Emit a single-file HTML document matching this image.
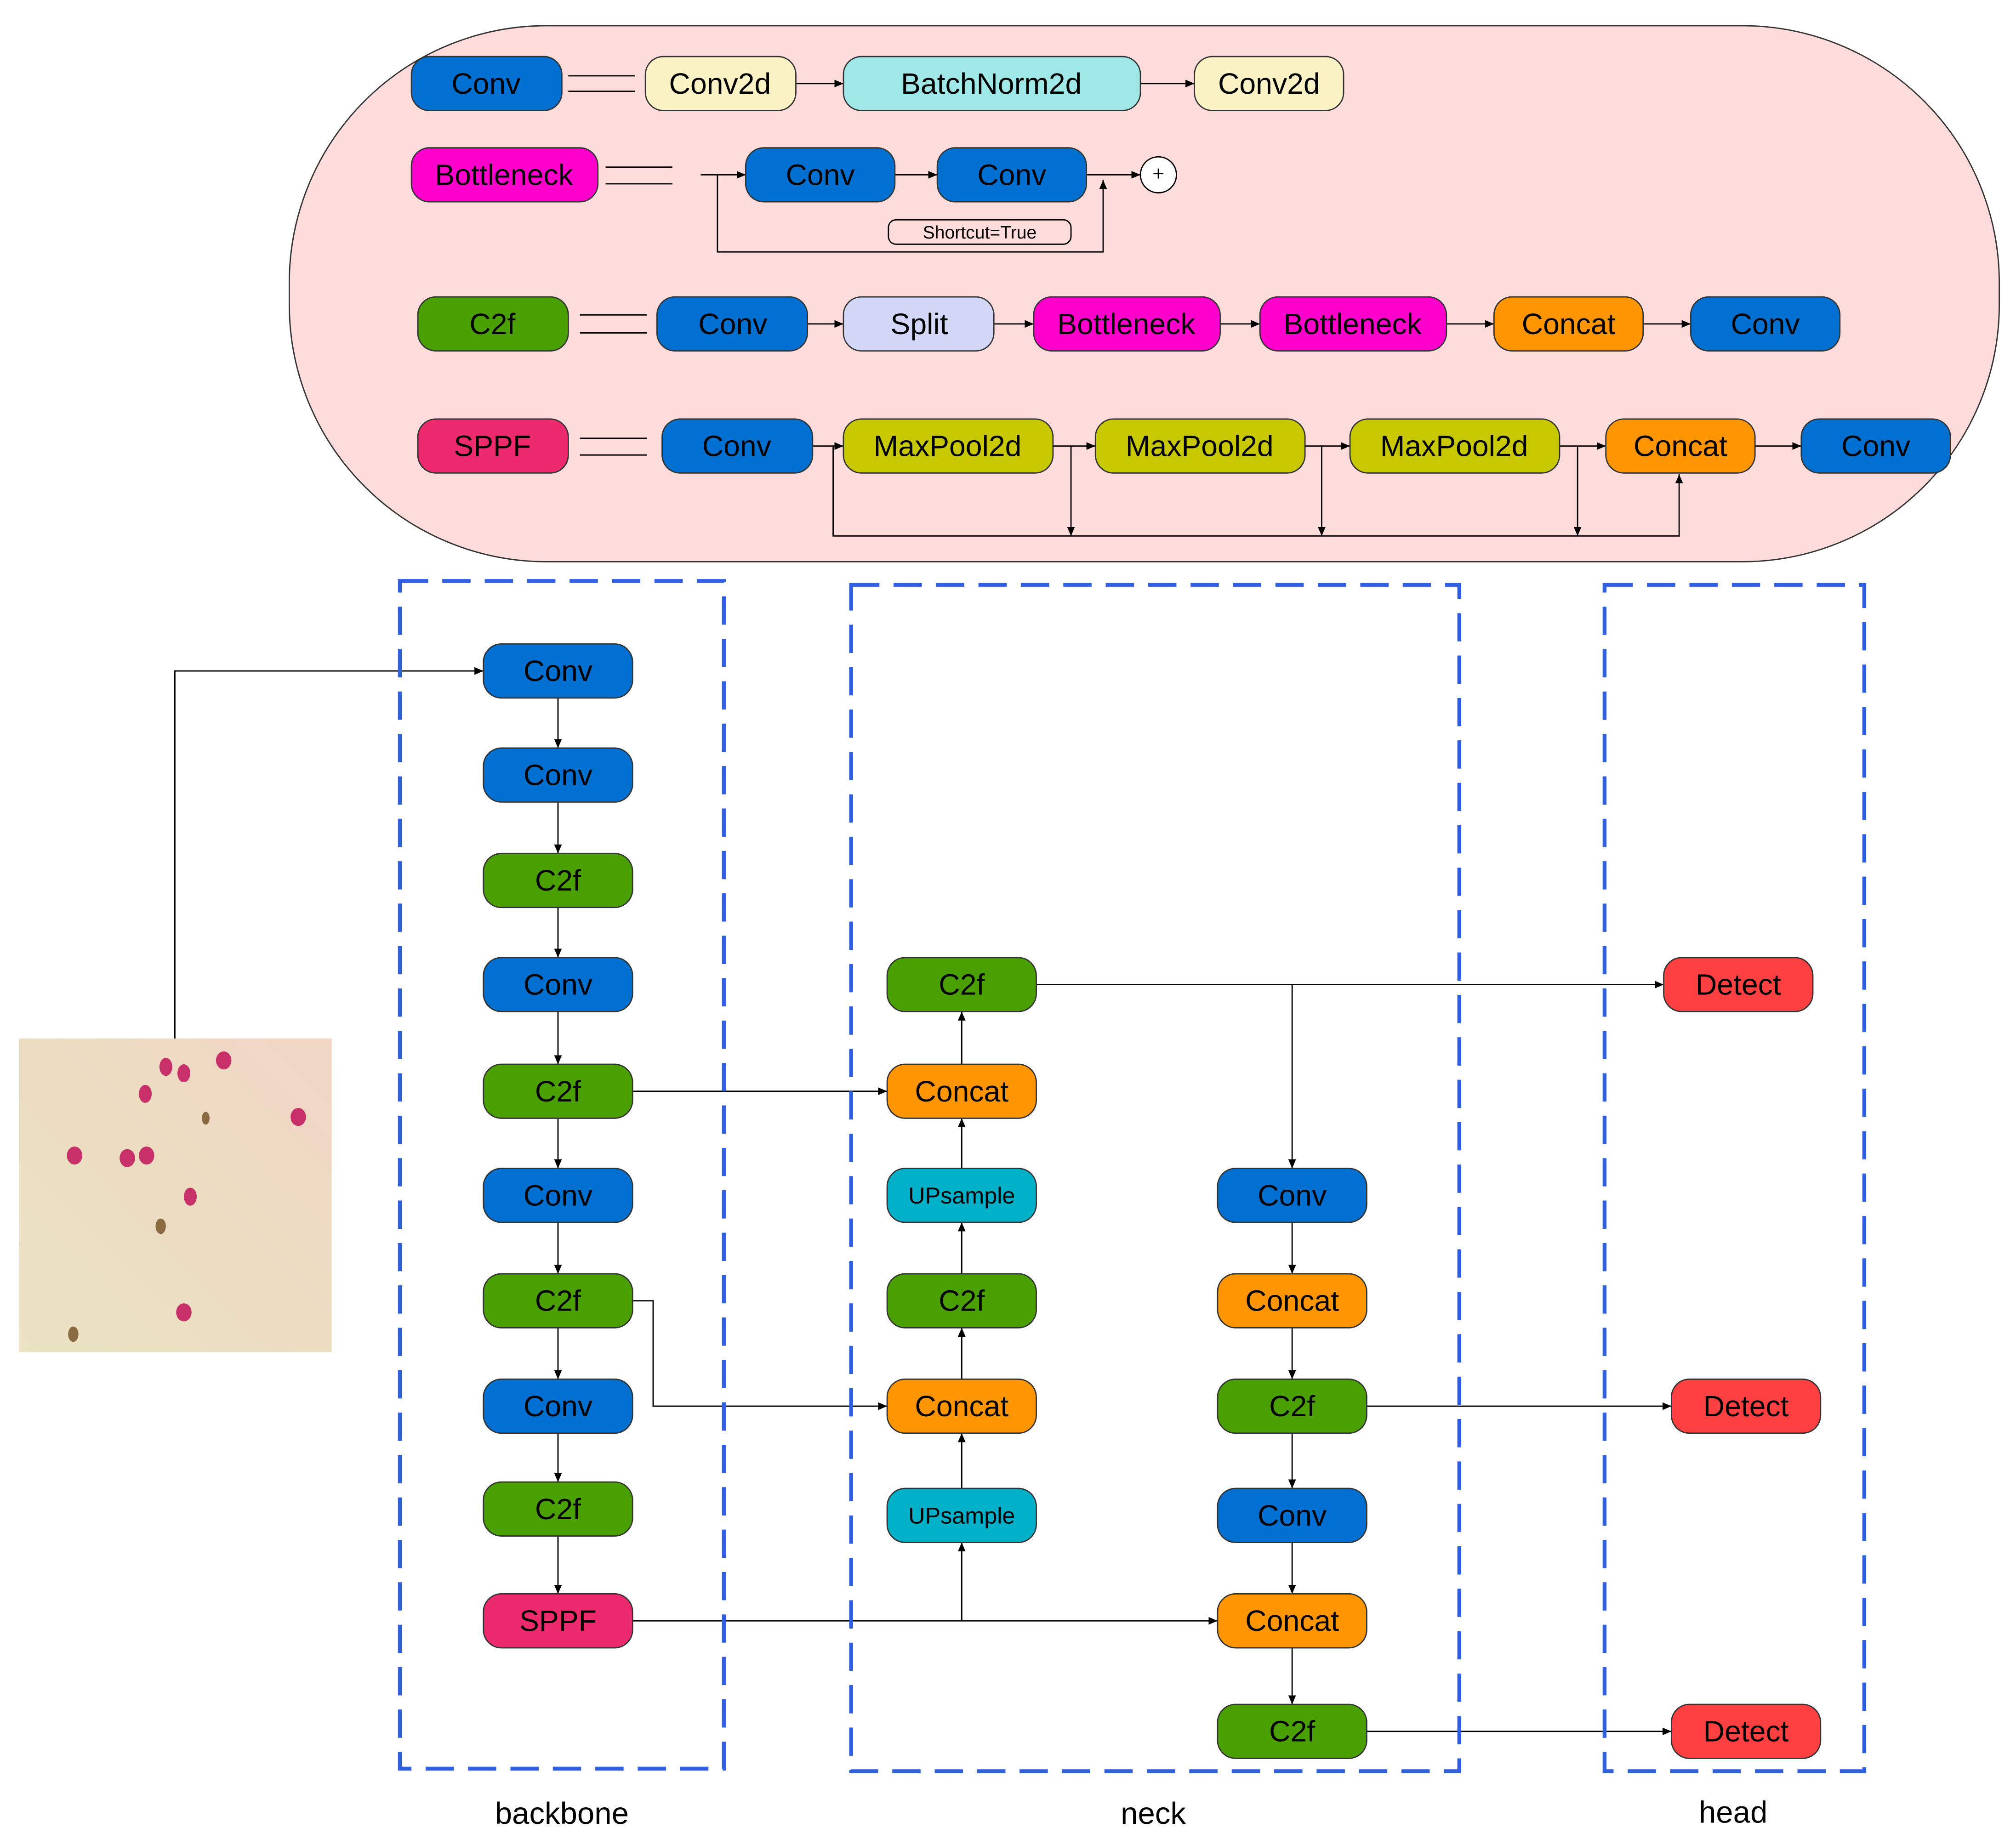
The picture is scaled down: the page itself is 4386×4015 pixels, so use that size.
<!DOCTYPE html>
<html><head><meta charset="utf-8"><style>
html,body{margin:0;padding:0;background:#fff}
svg{display:block}
text{font-family:"Liberation Sans",Arial,sans-serif;dominant-baseline:central;text-anchor:middle}
</style></head><body>
<svg width="4386" height="4015" viewBox="0 0 1568 1435.4" preserveAspectRatio="none" xmlns="http://www.w3.org/2000/svg">
<defs>
<marker id="a" markerWidth="8" markerHeight="8" refX="7" refY="4" orient="auto" markerUnits="userSpaceOnUse"><path d="M0,1 L7,4 L0,7 z" fill="#000"/></marker>
<linearGradient id="bg" x1="0" y1="1" x2="1" y2="0"><stop offset="0" stop-color="#ebe3c4"/><stop offset="0.5" stop-color="#ecdcc2"/><stop offset="1" stop-color="#f0d6c4"/></linearGradient>
</defs>
<rect x="225" y="20" width="1330" height="417" rx="200" ry="200" fill="#ffdcdc" stroke="#333" stroke-width="1"/>
<g stroke="#000" stroke-width="1" fill="none">
<path d="M442 59H494M442 71H494M471 130H523M471 143H523M451 245H503M451 259H503M451 341H503M451 354H503"/>
</g>
<g stroke="#000" stroke-width="1" fill="none" marker-end="url(#a)">
<path d="M619 65H656"/><path d="M887 65H929"/>
<path d="M545 136H580"/><path d="M696 136H729"/><path d="M845 136H887"/>
<path d="M558 136V196H858V140"/>
<path d="M628 252H656"/><path d="M773 252H804"/><path d="M949 252H980"/><path d="M1125 252H1162"/><path d="M1278 252H1315"/>
<path d="M632 347H656"/><path d="M819 347H852"/><path d="M1015 347H1050"/><path d="M1213 347H1249"/><path d="M1365 347H1401"/>
<path d="M648 347V417H1306V369"/>
<path d="M833 347V417"/><path d="M1028 347V417"/><path d="M1227 347V417"/>
<path d="M136 808V522H376"/>
<path d="M434 543V582"/><path d="M434 624V664"/><path d="M434 706V745"/><path d="M434 787V828"/><path d="M434 870V909"/><path d="M434 951V991"/><path d="M434 1033V1073"/><path d="M434 1115V1153"/><path d="M434 1195V1240"/>
<path d="M492 1261H947"/><path d="M748 1261V1200"/>
<path d="M748 1158V1115"/><path d="M748 1073V1033"/><path d="M748 991V951"/><path d="M748 909V870"/><path d="M748 828V787"/>
<path d="M492 849H690"/>
<path d="M492 1012H508V1094H690"/>
<path d="M806 766H1294"/><path d="M1005 766V909"/>
<path d="M1005 951V991"/><path d="M1005 1033V1073"/><path d="M1005 1115V1158"/><path d="M1005 1200V1240"/><path d="M1005 1282V1326"/>
<path d="M1063 1094H1300"/><path d="M1063 1347H1300"/>
</g>
<circle cx="901" cy="136" r="14" fill="#fff" stroke="#000"/><text x="901" y="135" font-size="16">+</text>
<rect x="691" y="171" width="142" height="19" rx="6" fill="#ffdcdc" stroke="#000"/><text x="762" y="181" font-size="14">Shortcut=True</text>
<g stroke="#222" stroke-width="1" stroke-dasharray="22 11" fill="none">
<rect x="311" y="452" width="252" height="924" stroke="#3060e0" stroke-width="3"/>
<rect x="662" y="455" width="473" height="923" stroke="#3060e0" stroke-width="3"/>
<rect x="1248" y="455" width="202" height="923" stroke="#3060e0" stroke-width="3"/>
</g>
<g font-size="23" stroke="#333" stroke-width="1">
<g><rect x="320" y="44" width="117" height="42" rx="14" fill="#0070d0"/><text x="378" y="65" stroke="none">Conv</text></g>
<g><rect x="502" y="44" width="117" height="42" rx="14" fill="#fbf2c6"/><text x="560" y="65" stroke="none">Conv2d</text></g>
<g><rect x="656" y="44" width="231" height="42" rx="14" fill="#a0e8e8"/><text x="771" y="65" stroke="none">BatchNorm2d</text></g>
<g><rect x="929" y="44" width="116" height="42" rx="14" fill="#fbf2c6"/><text x="987" y="65" stroke="none">Conv2d</text></g>
<g><rect x="320" y="115" width="145" height="42" rx="14" fill="#ff00cc"/><text x="392" y="136" stroke="none">Bottleneck</text></g>
<g><rect x="580" y="115" width="116" height="42" rx="14" fill="#0070d0"/><text x="638" y="136" stroke="none">Conv</text></g>
<g><rect x="729" y="115" width="116" height="42" rx="14" fill="#0070d0"/><text x="787" y="136" stroke="none">Conv</text></g>
<g><rect x="325" y="231" width="117" height="42" rx="14" fill="#4aa000"/><text x="383" y="252" stroke="none">C2f</text></g>
<g><rect x="511" y="231" width="117" height="42" rx="14" fill="#0070d0"/><text x="570" y="252" stroke="none">Conv</text></g>
<g><rect x="656" y="231" width="117" height="42" rx="14" fill="#d4d8f8"/><text x="715" y="252" stroke="none">Split</text></g>
<g><rect x="804" y="231" width="145" height="42" rx="14" fill="#ff00cc"/><text x="876" y="252" stroke="none">Bottleneck</text></g>
<g><rect x="980" y="231" width="145" height="42" rx="14" fill="#ff00cc"/><text x="1052" y="252" stroke="none">Bottleneck</text></g>
<g><rect x="1162" y="231" width="116" height="42" rx="14" fill="#ff9500"/><text x="1220" y="252" stroke="none">Concat</text></g>
<g><rect x="1315" y="231" width="116" height="42" rx="14" fill="#0070d0"/><text x="1373" y="252" stroke="none">Conv</text></g>
<g><rect x="325" y="326" width="117" height="42" rx="14" fill="#ee2a6e"/><text x="383" y="347" stroke="none">SPPF</text></g>
<g><rect x="515" y="326" width="117" height="42" rx="14" fill="#0070d0"/><text x="573" y="347" stroke="none">Conv</text></g>
<g><rect x="656" y="326" width="163" height="42" rx="14" fill="#c8c800"/><text x="737" y="347" stroke="none">MaxPool2d</text></g>
<g><rect x="852" y="326" width="163" height="42" rx="14" fill="#c8c800"/><text x="933" y="347" stroke="none">MaxPool2d</text></g>
<g><rect x="1050" y="326" width="163" height="42" rx="14" fill="#c8c800"/><text x="1131" y="347" stroke="none">MaxPool2d</text></g>
<g><rect x="1249" y="326" width="116" height="42" rx="14" fill="#ff9500"/><text x="1307" y="347" stroke="none">Concat</text></g>
<g><rect x="1401" y="326" width="116" height="42" rx="14" fill="#0070d0"/><text x="1459" y="347" stroke="none">Conv</text></g>

<g><rect x="376" y="501" width="116" height="42" rx="14" fill="#0070d0"/><text x="434" y="522" stroke="none">Conv</text></g>
<g><rect x="376" y="582" width="116" height="42" rx="14" fill="#0070d0"/><text x="434" y="603" stroke="none">Conv</text></g>
<g><rect x="376" y="664" width="116" height="42" rx="14" fill="#4aa000"/><text x="434" y="685" stroke="none">C2f</text></g>
<g><rect x="376" y="745" width="116" height="42" rx="14" fill="#0070d0"/><text x="434" y="766" stroke="none">Conv</text></g>
<g><rect x="376" y="828" width="116" height="42" rx="14" fill="#4aa000"/><text x="434" y="849" stroke="none">C2f</text></g>
<g><rect x="376" y="909" width="116" height="42" rx="14" fill="#0070d0"/><text x="434" y="930" stroke="none">Conv</text></g>
<g><rect x="376" y="991" width="116" height="42" rx="14" fill="#4aa000"/><text x="434" y="1012" stroke="none">C2f</text></g>
<g><rect x="376" y="1073" width="116" height="42" rx="14" fill="#0070d0"/><text x="434" y="1094" stroke="none">Conv</text></g>
<g><rect x="376" y="1153" width="116" height="42" rx="14" fill="#4aa000"/><text x="434" y="1174" stroke="none">C2f</text></g>
<g><rect x="376" y="1240" width="116" height="42" rx="14" fill="#ee2a6e"/><text x="434" y="1261" stroke="none">SPPF</text></g>

<g><rect x="690" y="745" width="116" height="42" rx="14" fill="#4aa000"/><text x="748" y="766" stroke="none">C2f</text></g>
<g><rect x="690" y="828" width="116" height="42" rx="14" fill="#ff9500"/><text x="748" y="849" stroke="none">Concat</text></g>
<g><rect x="690" y="909" width="116" height="42" rx="14" fill="#00b0c8"/><text x="748" y="930" stroke="none" font-size="18">UPsample</text></g>
<g><rect x="690" y="991" width="116" height="42" rx="14" fill="#4aa000"/><text x="748" y="1012" stroke="none">C2f</text></g>
<g><rect x="690" y="1073" width="116" height="42" rx="14" fill="#ff9500"/><text x="748" y="1094" stroke="none">Concat</text></g>
<g><rect x="690" y="1158" width="116" height="42" rx="14" fill="#00b0c8"/><text x="748" y="1179" stroke="none" font-size="18">UPsample</text></g>

<g><rect x="947" y="909" width="116" height="42" rx="14" fill="#0070d0"/><text x="1005" y="930" stroke="none">Conv</text></g>
<g><rect x="947" y="991" width="116" height="42" rx="14" fill="#ff9500"/><text x="1005" y="1012" stroke="none">Concat</text></g>
<g><rect x="947" y="1073" width="116" height="42" rx="14" fill="#4aa000"/><text x="1005" y="1094" stroke="none">C2f</text></g>
<g><rect x="947" y="1158" width="116" height="42" rx="14" fill="#0070d0"/><text x="1005" y="1179" stroke="none">Conv</text></g>
<g><rect x="947" y="1240" width="116" height="42" rx="14" fill="#ff9500"/><text x="1005" y="1261" stroke="none">Concat</text></g>
<g><rect x="947" y="1326" width="116" height="42" rx="14" fill="#4aa000"/><text x="1005" y="1347" stroke="none">C2f</text></g>

<g><rect x="1294" y="745" width="116" height="42" rx="14" fill="#ff4040"/><text x="1352" y="766" stroke="none">Detect</text></g>
<g><rect x="1300" y="1073" width="116" height="42" rx="14" fill="#ff4040"/><text x="1358" y="1094" stroke="none">Detect</text></g>
<g><rect x="1300" y="1326" width="116" height="42" rx="14" fill="#ff4040"/><text x="1358" y="1347" stroke="none">Detect</text></g>
</g>
<rect x="15" y="808" width="243" height="244" fill="url(#bg)"/>
<g fill="#c8306a">
<ellipse cx="129" cy="830" rx="5" ry="7"/><ellipse cx="143" cy="835" rx="5" ry="7"/><ellipse cx="174" cy="825" rx="6" ry="7"/>
<ellipse cx="113" cy="851" rx="5" ry="7"/><ellipse cx="232" cy="869" rx="6" ry="7"/><ellipse cx="58" cy="899" rx="6" ry="7"/>
<ellipse cx="99" cy="901" rx="6" ry="7"/><ellipse cx="114" cy="899" rx="6" ry="7"/><ellipse cx="148" cy="931" rx="5" ry="7"/>
<ellipse cx="143" cy="1021" rx="6" ry="7"/>
</g>
<g fill="#8a6a40"><ellipse cx="160" cy="870" rx="3" ry="5"/><ellipse cx="125" cy="954" rx="4" ry="6"/><ellipse cx="57" cy="1038" rx="4" ry="6"/></g>
<g font-size="24" fill="#000">
<text x="437" y="1411">backbone</text><text x="897" y="1411">neck</text><text x="1348" y="1410">head</text>
</g>
</svg>
</body></html>
